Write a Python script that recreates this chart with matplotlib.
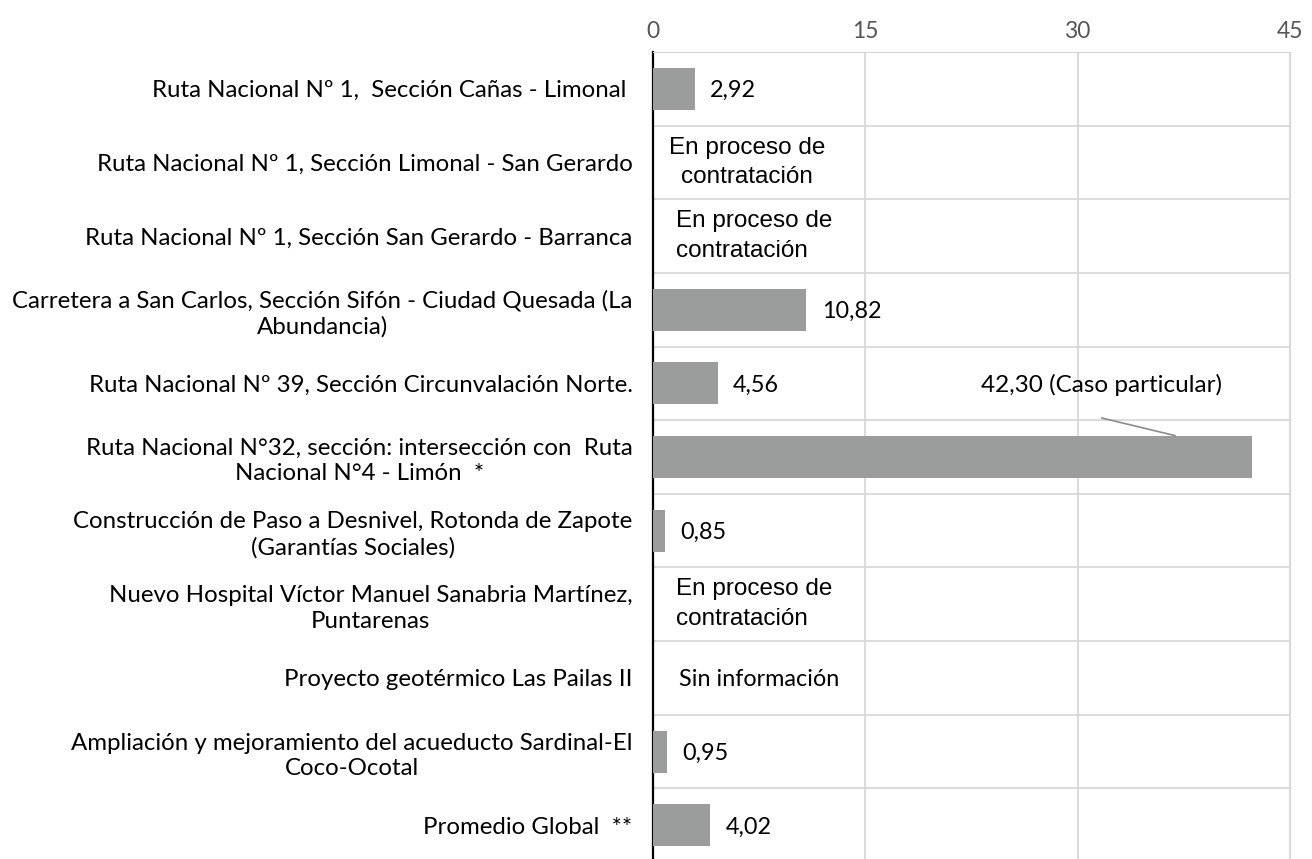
import numpy as np
import matplotlib.pyplot as plt

# Datos del gráfico
proyectos = [
    "Ruta Nacional Nº 1,  Sección Cañas - Limonal ",
    "Ruta Nacional Nº 1, Sección Limonal - San Gerardo",
    "Ruta Nacional Nº 1, Sección San Gerardo - Barranca",
    "Carretera a San Carlos, Sección Sifón - Ciudad Quesada (La\nAbundancia)",
    "Ruta Nacional Nº 39, Sección Circunvalación Norte.",
    "Ruta Nacional N°32, sección: intersección con  Ruta\nNacional N°4 - Limón  *",
    "Construcción de Paso a Desnivel, Rotonda de Zapote\n(Garantías Sociales)",
    "Nuevo Hospital Víctor Manuel Sanabria Martínez,\nPuntarenas",
    "Proyecto geotérmico Las Pailas II",
    "Ampliación y mejoramiento del acueducto Sardinal-El\nCoco-Ocotal",
    "Promedio Global  **",
]
valores = [2.92, np.nan, np.nan, 10.82, 4.56, 42.30, 0.85, np.nan, np.nan, 0.95, 4.02]
etiquetas = ["2,92", None, None, "10,82", "4,56", "42,30 (Caso particular)",
             "0,85", None, None, "0,95", "4,02"]
estados = [None, "En proceso de\ncontratación", "En proceso de\ncontratación", None, None,
           None, None, "En proceso de\ncontratación", "Sin información", None, None]
ticks_x = [0, 15, 30, 45]

BAR = '#9b9d9d'
GRID = '#d6d6d6'
FONT = 'Lato'

fig = plt.figure(figsize=(13.12, 8.59), dpi=100)
ax = fig.add_axes([0.498, -0.0035, 0.485, 0.943])

y = np.arange(len(proyectos))
ax.barh(y, np.nan_to_num(valores), height=0.57, color=BAR, zorder=3)

ax.set_xlim(0, 45)
ax.set_ylim(len(proyectos) - 0.5, -0.5)

# ejes y rejilla
ax.xaxis.tick_top()
ax.set_xticks(ticks_x)
ax.set_xticklabels([str(t) for t in ticks_x], fontsize=16.5, color='#555555', family=FONT)
ax.tick_params(axis='x', length=0, pad=7)
ax.set_yticks(y)
ax.set_yticklabels(proyectos, fontsize=17.3, family=FONT, multialignment='center')
plt.setp(ax.get_yticklabels(), linespacing=1.25)
ax.tick_params(axis='y', length=0, pad=15)
ax.set_yticks(np.arange(len(proyectos)) - 0.5, minor=True)
ax.tick_params(axis='y', which='minor', length=0)
ax.grid(axis='x', color=GRID, linewidth=1.2, zorder=0)
ax.grid(axis='y', which='minor', color=GRID, linewidth=1.2, zorder=0)
ax.grid(axis='y', which='major', visible=False)

ax.spines['bottom'].set_visible(False)
ax.spines['top'].set_color(GRID)
ax.spines['right'].set_color(GRID)
ax.spines['left'].set_color('black')
ax.spines['left'].set_linewidth(1.6)

# etiquetas de valores
for i, (v, lab) in enumerate(zip(valores, etiquetas)):
    if lab is None:
        continue
    if v > 40:
        # caso particular: etiqueta arriba con línea guía
        ax.text(31.7, i - 1, lab, fontsize=17.5, family=FONT, ha='center', va='center_baseline')
        ax.annotate('', xy=(36.9, i - 0.29), xytext=(31.7, i - 0.53),
                    arrowprops=dict(arrowstyle='-', color='#8c8c8c', lw=1.2,
                                    shrinkA=0, shrinkB=0))
    else:
        ax.annotate(lab, xy=(v, i), xytext=(11, 0), textcoords='offset points',
                    fontsize=16.8, family=FONT, ha='left', va='center_baseline')

# estado de proyectos sin dato
for i, est in enumerate(estados):
    if est is None:
        continue
    if i == 8:
        ax.text(7.5, i, est, fontsize=16.8, family=FONT, ha='center', va='center_baseline')
    elif i == 1:
        ax.text(6.65, i, est, fontsize=17.5, family='Liberation Sans',
                ha='center', va='center', multialignment='center', linespacing=1.45)
    else:
        ax.text(1.6, i, est, fontsize=17.5, family='Liberation Sans',
                ha='left', va='center', multialignment='left', linespacing=1.45)

fig.savefig('out.png', dpi=100)
